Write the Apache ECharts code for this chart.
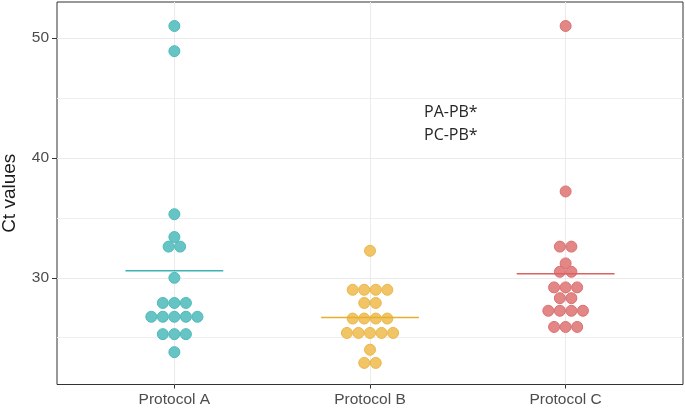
<!DOCTYPE html>
<html>
<head>
<meta charset="utf-8">
<script src="https://cdn.jsdelivr.net/npm/echarts@6/dist/echarts.min.js"></script>
<style>
  html, body { margin: 0; padding: 0; background: #fff; }
  #chart { width: 685px; height: 408px; }
</style>
</head>
<body>
<div id="chart"></div>
<script>
// data (binned Ct values, one entry per dot)
const categories = ["Protocol A", "Protocol B", "Protocol C"];
const protocolA = [51.0, 48.9, 35.3, 33.4, 32.6, 32.6, 30.0, 27.9, 27.9, 27.9,
  26.75, 26.75, 26.75, 26.75, 26.75, 25.3, 25.3, 25.3, 23.8];
const protocolB = [32.25, 29.0, 29.0, 29.0, 29.0, 27.9, 27.9, 26.6, 26.6, 26.6, 26.6,
  25.4, 25.4, 25.4, 25.4, 25.4, 24.0, 22.9, 22.9];
const protocolC = [51.0, 37.2, 32.6, 32.6, 31.2, 30.5, 30.5, 29.2, 29.2, 29.2,
  28.3, 28.3, 27.25, 27.25, 27.25, 27.25, 25.9, 25.9, 25.9];
const yMajorTicks = [30, 40, 50];
const yMinorTicks = [25, 35, 45];
const annotation = ["PA-PB*", "PC-PB*"];

const groups = [protocolA, protocolB, protocolC];
const fills = ["#66c4c4", "#f1c466", "#e38686"];
const borders = ["#4fb9b9", "#e9b64a", "#da7070"];
const lineColors = ["#3fb3b3", "#e8ae2e", "#d96262"];
const dotStep = 0.059; // horizontal spacing of stacked dots, in x units

// centre-stack the dots that share a bin
function stackDots(values, g) {
  const counts = new Map();
  values.forEach(v => counts.set(v, (counts.get(v) || 0) + 1));
  const out = [];
  counts.forEach((n, v) => {
    for (let i = 0; i < n; i++) {
      out.push([g + (i - (n - 1) / 2) * dotStep, v]);
    }
  });
  return out;
}

const mean = arr => arr.reduce((a, b) => a + b, 0) / arr.length;

const series = [];
groups.forEach((vals, i) => {
  series.push({
    type: "scatter",
    data: stackDots(vals, i + 1),
    symbolSize: 11,
    itemStyle: { color: fills[i], borderColor: borders[i], borderWidth: 1, opacity: 1 },
    z: 3,
    silent: true
  });
});
groups.forEach((vals, i) => {
  const m = mean(vals);
  series.push({
    type: "line",
    data: [[i + 1 - 0.25, m], [i + 1 + 0.25, m]],
    symbol: "none",
    lineStyle: { color: lineColors[i], width: 1.5 },
    z: 4,
    silent: true
  });
});

const chart = echarts.init(document.getElementById("chart"));

const option = {
  animation: false,
  textStyle: { fontFamily: "Liberation Sans, Arial, sans-serif" },
  grid: {
    left: 57, right: 2, top: 2, bottom: 23.5,
    show: true, borderColor: "#333333", borderWidth: 1,
    containLabel: false, outerBoundsMode: "none"
  },
  xAxis: {
    type: "value",
    min: 0.4, max: 3.6,
    axisLine: { show: false },
    axisTick: { show: true, length: 4, lineStyle: { color: "#333333" }, customValues: [1, 2, 3] },
    axisLabel: {
      customValues: [1, 2, 3],
      formatter: v => categories[Math.round(v) - 1],
      color: "#4d4d4d", fontSize: 15.5, margin: 7
    },
    splitLine: { show: true, lineStyle: { color: "#ebebeb", width: 1 } }
  },
  yAxis: [
    {
      type: "value",
      min: 21.1, max: 53,
      name: "Ct values",
      nameLocation: "middle",
      nameGap: 38,
      nameTextStyle: { fontSize: 19, color: "#1a1a1a" },
      axisLine: { show: false },
      axisTick: { show: true, length: 5, lineStyle: { color: "#333333" }, customValues: yMajorTicks },
      axisLabel: { customValues: yMajorTicks, color: "#4d4d4d", fontSize: 15.5, margin: 8 },
      splitLine: { show: true, lineStyle: { color: "#ebebeb", width: 1 } }
    },
    {
      type: "value",
      position: "left",
      min: 21.1, max: 53,
      axisLine: { show: false },
      axisTick: { show: false, customValues: yMinorTicks },
      axisLabel: { show: false, customValues: yMinorTicks },
      splitLine: { show: true, lineStyle: { color: "#efefef", width: 1 } }
    }
  ],
  graphic: [
    {
      type: "text",
      left: 424,
      top: 101,
      style: {
        text: annotation.join("\n"),
        font: "16px 'Open Sans', 'Noto Sans', sans-serif",
        lineHeight: 23,
        fill: "#262626"
      }
    }
  ],
  series: series
};

chart.setOption(option);
window.addEventListener("resize", () => chart.resize());
</script>
</body>
</html>
